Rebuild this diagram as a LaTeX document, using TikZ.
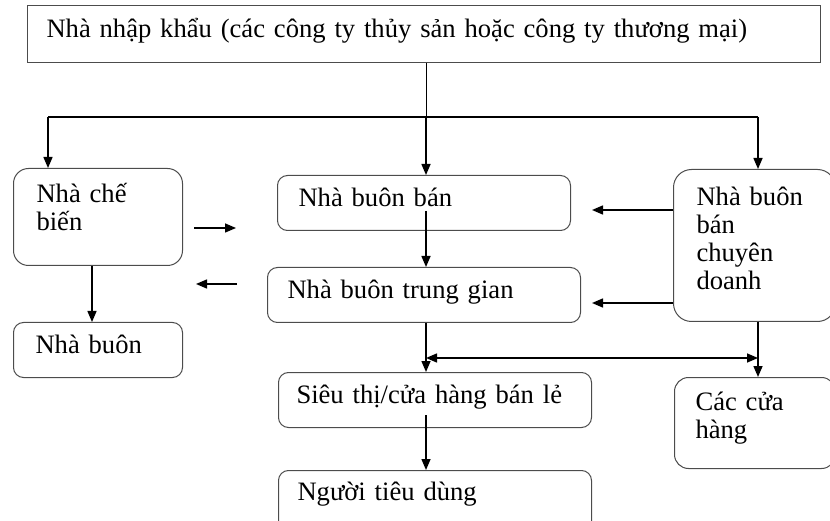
\documentclass[tikz,border=0pt]{standalone}
\usepackage{fontspec}
\setmainfont{Liberation Serif}
\usetikzlibrary{arrows.meta}
\begin{document}
\begin{tikzpicture}[x=1pt, y=-1pt,
		>={Triangle[length=11pt,width=9pt]}, line width=1.5pt,
		khung/.style={draw=black!70, line width=1pt, anchor=north west,
			inner sep=0pt, align=left, font=\fontsize{26.6}{28}\selectfont},
		khungtron/.style={khung, rounded corners=10pt},
		muiten/.style={->, line width=1.5pt, black}]
	\useasboundingbox (0,0) rectangle (830,521);
	
	%% nha nhap khau
	\node[khung, inner xsep=19pt, text width=755pt, text height=32pt, text depth=25pt] (nk) at (27,5)
		{Nhà nhập khẩu (các công ty thủy sản hoặc công ty thương mại)};
	
	%% cot trai
	\node[khungtron, rounded corners=15pt, inner xsep=23pt, text width=123pt,
		text height=34pt, text depth=63pt] (cb) at (13,168) {Nhà chế\\biến};
	\node[khungtron, inner xsep=22pt, text width=125pt,
		text height=31pt, text depth=24pt] (nb) at (13,322) {Nhà buôn};
	
	%% cot giua
	\node[khungtron, inner xsep=21pt, text width=251pt,
		text height=31pt, text depth=24pt] (nbb) at (277,175) {Nhà buôn bán};
	\node[khungtron, inner xsep=20pt, text width=273pt,
		text height=31pt, text depth=24pt] (tg) at (267,267) {Nhà buôn trung gian};
	\node[khungtron, inner xsep=18pt, text width=277pt,
		text height=31pt, text depth=24pt] (st) at (278,372) {Siêu thị/cửa hàng bán lẻ};
	\node[khungtron, inner xsep=19pt, text width=275pt,
		text height=30pt, text depth=40pt] (ntd) at (278,470) {Người tiêu dùng};
	
	%% cot phai
	\node[khungtron, rounded corners=18pt, inner xsep=23pt, text width=116pt,
		text height=36pt, text depth=116pt] (cd) at (673,169)
		{Nhà buôn\\bán\\chuyên\\doanh};
	\node[khungtron, rounded corners=14pt, inner xsep=21pt, text width=119pt,
		text height=33pt, text depth=58pt] (cch) at (674,377) {Các cửa\\hàng};
	
	%% re nhanh tu nha nhap khau
	\coordinate (nhanhT) at (48,117);
	\coordinate (nhanhG) at (426,117);
	\coordinate (nhanhP) at (758,117);
	\draw[line width=1pt] (nk.south -| nhanhG) -- (nhanhG);
	\draw (nhanhT) -- (nhanhP);
	\draw[muiten] (nhanhT) -- (nhanhT |- cb.north);
	\draw[muiten] (nhanhG) -- (nhanhG |- nbb.north);
	\draw[muiten] (nhanhP) -- (nhanhP |- cd.north);
	
	%% mui ten le giua cot trai va cot giua
	\coordinate (sangA) at (194,228);
	\coordinate (sangB) at (236,228);
	\coordinate (veA) at (237,284);
	\coordinate (veB) at (196,284);
	\draw[muiten] (sangA) -- (sangB);
	\draw[muiten] (veA) -- (veB);
	\draw[muiten] ([xshift=-6pt]cb.south) -- ([xshift=-6pt]nb.north);
	
	%% luong di xuong
	\draw[muiten] (nhanhG |- nbb.south) ++(0,-20) -- (nhanhG |- tg.north);
	\draw[muiten] (nhanhG |- tg.south) -- (nhanhG |- st.north);
	\draw[muiten] (nhanhG |- st.south) ++(0,-13) -- (nhanhG |- ntd.north);
	\draw[muiten] (nhanhP |- cd.south) -- (nhanhP |- cch.north);
	
	%% chuyen doanh ve cot giua
	\coordinate (m1) at (592,210);
	\coordinate (m2) at (592,303);
	\draw[muiten] (cd.west |- m1) -- (m1);
	\draw[muiten] (cd.west |- m2) -- (m2);
	
	%% hai chieu
	\coordinate (haiT) at (426,358);
	\coordinate (haiP) at (758,358);
	\draw[muiten, <->] (haiT) -- (haiP);
\end{tikzpicture}
\end{document}
